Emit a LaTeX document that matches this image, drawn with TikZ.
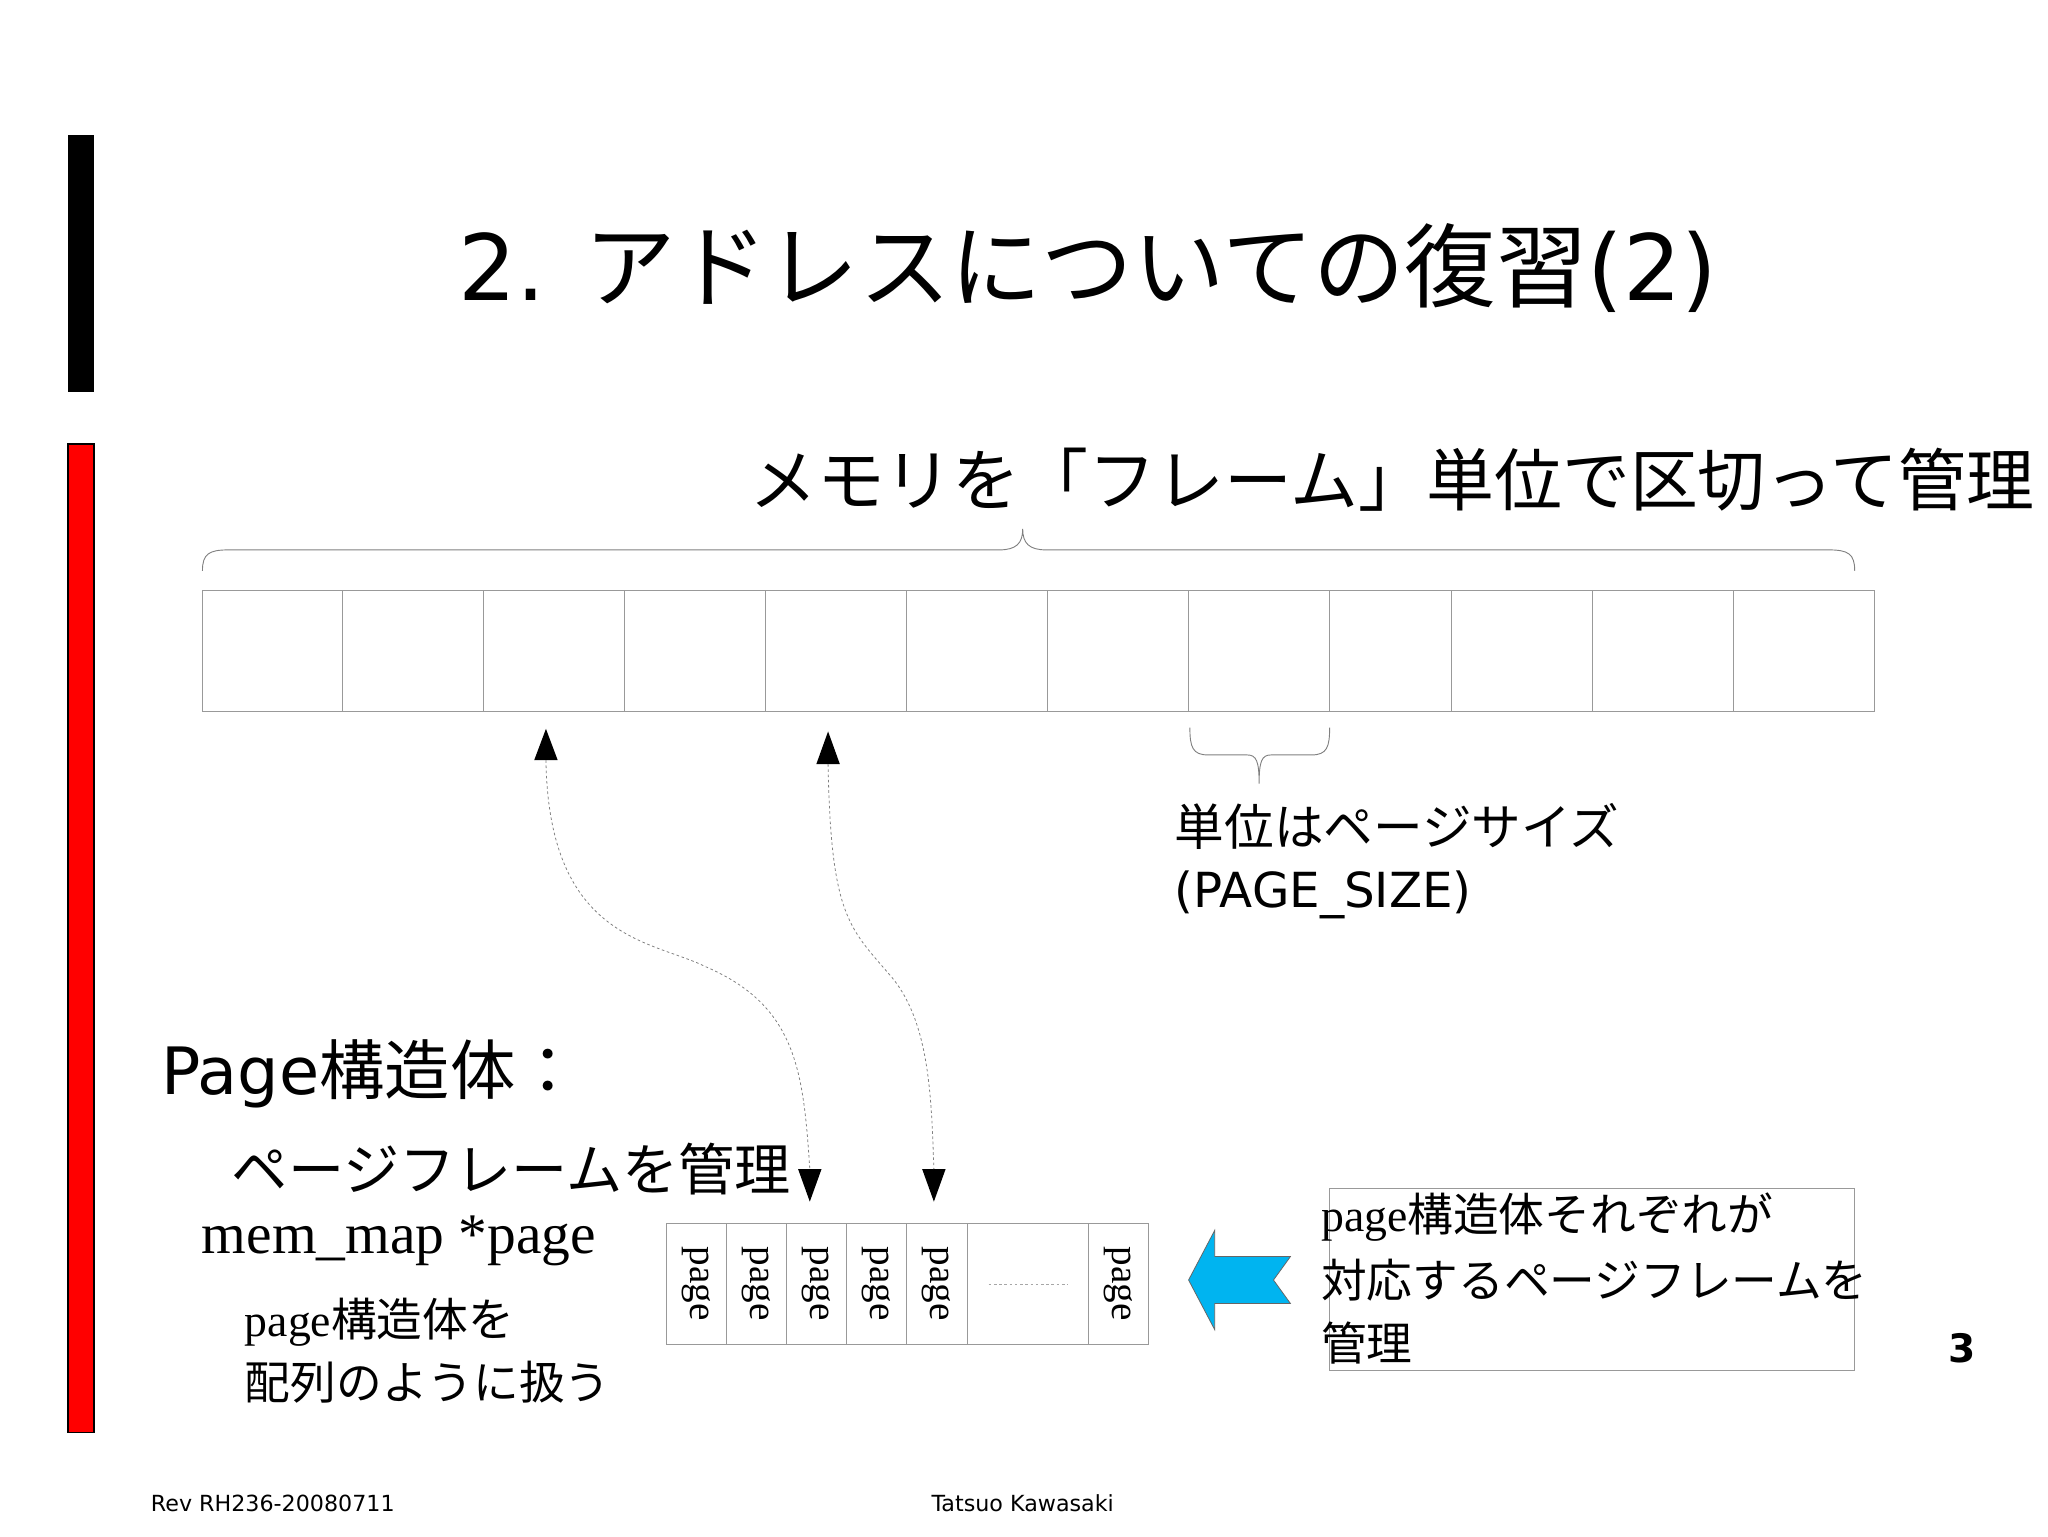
\documentclass[tikz,border=0pt]{standalone}
\usepackage{fontspec}
\setmainfont{DejaVu Sans}
\newfontfamily\jp{Noto Sans CJK JP}
\newfontfamily\srf{Liberation Serif}
\usetikzlibrary{decorations.pathreplacing}
\definecolor{arrowblue}{HTML}{00B4F0}
\begin{document}
\begin{tikzpicture}[x=1pt,y=-1pt,
  cell/.style={draw=gray!80,line width=0.7pt},
  tri/.style={fill=black},
  dcurve/.style={draw=gray,dashed,dash pattern=on 2pt off 2pt,line width=0.6pt},
  brc/.style={draw=gray,line width=0.7pt}]
\useasboundingbox (0,0) rectangle (1568,1176);
\fill[white] (0,0) rectangle (1568,1176);
\fill[black] (52,103) rectangle (72,300);
\draw[fill=red,line width=1pt] (52,340) rectangle (72,1097);
\node[font=\fontsize{70}{80}\selectfont] (title) at (833,205) {2. {\jp アドレスについての復習}(2)};
\node[anchor=west,font=\jp\fontsize{52}{60}\selectfont] (sub) at (570,367) {メモリを「フレーム」単位で区切って管理};
% big brace
\draw[brc] (155,437) .. controls (155,424) and (160,421) .. (175,421) -- (765,421) .. controls (778,421) and (783,416) .. (783,405)
 .. controls (783,416) and (788,421) .. (801,421) -- (1400,421) .. controls (1415,421) and (1420,424) .. (1420,437);
% frames
\draw[cell] (155,452) rectangle (1435,545);
\foreach \x in {262,370,478,586,694,802,910,1018,1111,1219,1327}{\draw[cell] (\x,452) -- (\x,545);}
% small brace
\draw[brc] (911,557) .. controls (911,572) and (913,578) .. (925,578) -- (955,578) .. controls (962,578) and (964,583) .. (964,600)
 .. controls (964,583) and (966,578) .. (973,578) -- (1004,578) .. controls (1016,578) and (1018,572) .. (1018,557);
\node[anchor=west,font=\jp\fontsize{38}{44}\selectfont] (unit) at (896,633) {単位はページサイズ};
\node[anchor=west,font=\fontsize{37}{44}\selectfont] (ps) at (896,685) {(PAGE\_SIZE)};
% arrows
\coordinate (u1) at (418,582); \coordinate (u2) at (634,585);
\coordinate (d1) at (620,895); \coordinate (d2) at (715,895);
\fill[tri] (409,582) -- (427,582) -- (418,558) -- cycle;
\fill[tri] (625,585) -- (643,585) -- (634,560) -- cycle;
\fill[tri] (611,895) -- (629,895) -- (620,920) -- cycle;
\fill[tri] (706,895) -- (724,895) -- (715,920) -- cycle;
\draw[dcurve] (u1) .. controls (420,720) and (500,720) .. (540,740) .. controls (610,770) and (615,820) .. (d1);
\draw[dcurve] (u2) .. controls (636,700) and (650,710) .. (680,745) .. controls (712,780) and (713,840) .. (d2);
\node[anchor=west,font=\fontsize{50}{58}\selectfont] (pg) at (120,822) {Page{\jp 構造体：}};
\node[anchor=west,font=\jp\fontsize{43}{50}\selectfont] (pf) at (174,895) {ページフレームを管理};
\node[anchor=west,font=\srf\fontsize{44}{50}\selectfont] (mm) at (151,950) {mem\_map *page};
\node[anchor=west,font=\fontsize{35}{42}\selectfont] (pa1) at (184,1012) {{\srf page}{\jp 構造体を}};
\node[anchor=west,font=\jp\fontsize{35}{42}\selectfont] (pa2) at (184,1058) {配列のように扱う};
% page array
\draw[cell] (510,937) rectangle (879,1029);
\foreach \x in {556,602,648,694,741,833}{\draw[cell] (\x,937) -- (\x,1029);}
\foreach \x/\n in {533/a,579/b,625/c,671/d,717/e,856/f}{\node[rotate=-90,font=\srf\fontsize{30}{34}\selectfont] (p\n) at (\x,983) {page};}
\draw[gray!70,dashed,dash pattern=on 2pt off 2pt] (757,983) -- (818,983);
% blue arrow
\draw[fill=arrowblue,draw=black!60,line width=0.6pt] (910,980) -- (930,942) -- (930,962) -- (988,962) -- (975,980) -- (988,998) -- (930,998) -- (930,1018) -- cycle;
% text box
\draw[cell] (1018,910) rectangle (1420,1049);
\node[anchor=west,font=\fontsize{35}{42}\selectfont] (t1) at (1008,932) {{\srf page}{\jp 構造体それぞれが}};
\node[anchor=west,font=\jp\fontsize{35}{42}\selectfont] (t2) at (1008,980) {対応するページフレームを};
\node[anchor=west,font=\jp\fontsize{35}{42}\selectfont] (t3) at (1008,1028) {管理};
\node[font=\bfseries\fontsize{30}{34}\selectfont] (num) at (1502,1032) {3};
\node[anchor=west,font=\fontsize{17}{20}\selectfont] (rev) at (112,1151) {Rev RH236-20080711};
\node[font=\fontsize{17}{20}\selectfont] (auth) at (783,1151) {Tatsuo Kawasaki};
\end{tikzpicture}
\end{document}
